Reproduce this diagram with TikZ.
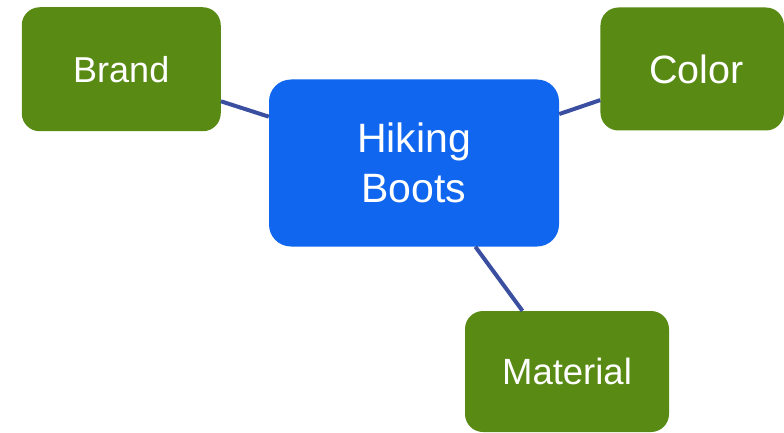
\documentclass[tikz,border=0pt]{standalone}
\usepackage{fontspec}
\setmainfont{Liberation Sans}
\definecolor{leafgreen}{HTML}{588A14}
\definecolor{hubblue}{HTML}{1066EE}
\definecolor{linkblue}{HTML}{3A4FA0}
\tikzset{
  topicbox/.style={draw=none, fill=leafgreen, rounded corners=18pt, text=white, inner sep=0pt, align=center},
  hubbox/.style={draw=none, fill=hubblue, rounded corners=22pt, text=white, inner sep=0pt, align=center},
  link/.style={draw=linkblue, line width=4pt}
}
\begin{document}
\begin{tikzpicture}[x=1pt, y=-1pt]
\useasboundingbox (0,0) rectangle (784,433);
\node[hubbox, minimum width=290pt, minimum height=167pt,
      font=\fontsize{41}{50.5}\selectfont] (hub) at (414,163) {Hiking\\Boots};
\node[topicbox, minimum width=199pt, minimum height=124pt,
      font=\fontsize{36}{43}\selectfont] (brand) at (121.25,69.25) {Brand};
\node[topicbox, minimum width=183.5pt, minimum height=123pt,
      font=\fontsize{39.5}{47}\selectfont] (color) at (692.2,69) {\hspace*{8.5pt}Color};
\node[topicbox, minimum width=204pt, minimum height=121pt,
      font=\fontsize{36.5}{44}\selectfont] (material) at (567,371.5) {Material};
\draw[link] (brand) -- (hub);
\draw[link] (color) -- (hub);
\draw[link] (material) -- (hub);
\end{tikzpicture}
\end{document}
